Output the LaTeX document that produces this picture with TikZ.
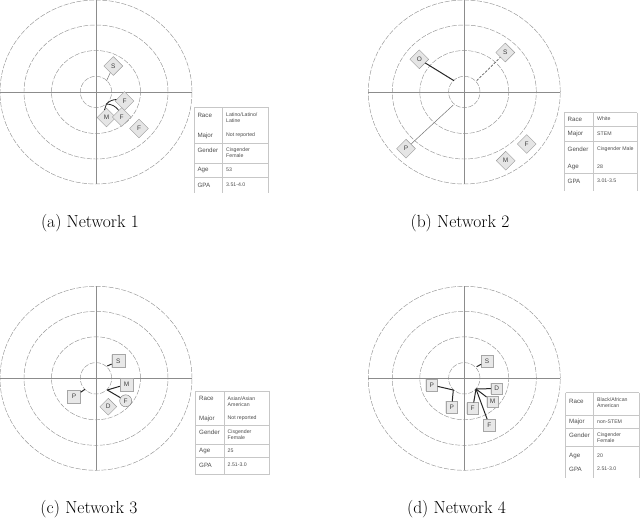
\documentclass[tikz,border=0pt]{standalone}
\usepackage{fontspec}
\setsansfont{Liberation Sans}
\usetikzlibrary{shapes.geometric}
\tikzset{
  target/.pic={
    \draw[ring] (0,0) ellipse [x radius=96pt, y radius=92pt];
    \draw[ring] (0,0) ellipse [x radius=72pt, y radius=67pt];
    \draw[ring] (0,0) ellipse [x radius=44.5pt, y radius=41.5pt];
    \draw[ring] (0,0) ellipse [x radius=15.7pt, y radius=15.7pt];
    \draw[axisline] (-96,0) -- (96,0);
    \draw[axisline] (0,-92) -- (0,92);
  }
}
\begin{document}
\begin{tikzpicture}[x=1pt,y=-1pt,
  axisline/.style={draw=black!45, line width=0.6pt},
  ring/.style={draw=black!42, line width=0.45pt, dash pattern=on 5pt off 1.5pt},
  lbl/.style={font=\sffamily\fontsize{6.5}{7}\selectfont, text=black!75},
  dnode/.style={lbl, diamond, draw=black!40, fill=black!10, minimum width=19pt, minimum height=19pt, inner sep=0pt},
  snode/.style={lbl, rectangle, draw=black!35, fill=black!9, minimum size=13pt, inner sep=0pt,
     path picture={\draw[black!65, line width=1pt] (path picture bounding box.north west) -- (path picture bounding box.south west);}},
  ssnode/.style={snode, minimum size=11.5pt},
  cnode/.style={lbl, circle, draw=black!55, fill=black!9, minimum size=12pt, inner sep=0pt},
  thinlink/.style={draw=black!55, line width=0.5pt},
  darklink/.style={draw=black!85, line width=1pt},
  dashlink/.style={draw=black!65, line width=0.7pt, dash pattern=on 2.5pt off 1.5pt},
  captxt/.style={font=\fontsize{17.5}{20}\selectfont, inner sep=0pt},
  tline/.style={draw=black!22, line width=0.5pt},
  thead/.style={anchor=west, inner sep=0pt, font=\sffamily\fontsize{6.2}{7}\selectfont, text=black!70},
  tval/.style={anchor=west, inner sep=0pt, align=left, font=\sffamily\fontsize{5.2}{6}\selectfont, text=black!70},
]
\useasboundingbox (0,0) rectangle (640,519);

% ---------- Network 1 ----------
\pic at (96,92) {target};
\coordinate (n1a) at (106.5,81);
\coordinate (n1h) at (106.5,104);
\node[dnode] (n1S) at (113.3,66) {S};
\node[dnode] (n1F1) at (124.5,101) {F};
\node[dnode] (n1M) at (106.5,117.5) {M};
\node[dnode] (n1F2) at (121.7,117) {F};
\node[dnode] (n1F3) at (139,128.5) {F};
\draw[thinlink] (n1a) -- (n1S);
\draw[darklink, line width=0.8pt] (n1h) to[bend left=20] (n1F1);
\draw[darklink, line width=0.8pt] (n1h) to[bend left=25] (n1F2);
\draw[darklink, line width=0.8pt] (n1h) to[bend right=15] (n1M);

% table 1
\draw[tline] (194,107.3) -- (268.3,107.3);
\foreach \yy in {143.3,163.3,177.3} {\draw[tline] (194,\yy) -- (268.3,\yy);}
\foreach \xx in {194,222.3,268.3} {\draw[tline] (\xx,107.3) -- (\xx,192.7);}
\node[thead] (t1a) at (197.3,115.7) {Race};
\node[tval] (t1b) at (226,118) {Latino/Latino/\\Latine};
\node[thead] (t1c) at (197.3,135.7) {Major};
\node[tval] (t1d) at (226,135.3) {Not reported};
\node[thead] (t1e) at (197.3,150.7) {Gender};
\node[tval] (t1f) at (226,153) {Cisgender\\Female};
\node[thead] (t1g) at (197.3,170.3) {Age};
\node[tval] (t1h) at (226,169.8) {53};
\node[thead] (t1i) at (197.3,185) {GPA};
\node[tval] (t1j) at (226,184.5) {3.51-4.0};

\node[captxt] (capa) at (90,222.8) {(a) Network 1};

% ---------- Network 2 ----------
\pic at (464.3,92) {target};
\coordinate (n2o) at (454,80.7);
\coordinate (n2s) at (476.7,80.7);
\coordinate (n2p) at (453.3,105);
\node[dnode] (n2O) at (419.3,59.3) {O};
\node[dnode] (n2S) at (505.3,52.5) {S};
\node[dnode] (n2P) at (406,148.7) {P};
\node[dnode] (n2F) at (526.7,144) {F};
\node[dnode] (n2M) at (505.7,160.7) {M};
\draw[darklink] (n2o) -- (n2O);
\draw[dashlink] (n2s) -- (n2S);
\draw[thinlink] (n2p) -- (n2P);

% table 2
\foreach \yy in {112.7,126.7,141.7,173.5} {\draw[tline] (564.3,\yy) -- (637.3,\yy);}
\foreach \xx in {564.3,593.3,637.3} {\draw[tline] (\xx,112.7) -- (\xx,190.5);}
\node[thead] (t2a) at (567.5,119.5) {Race};
\node[tval] (t2b) at (597,119) {White};
\node[thead] (t2c) at (567.5,134.3) {Major};
\node[tval] (t2d) at (597,134) {STEM};
\node[thead] (t2e) at (567.5,149) {Gender};
\node[tval] (t2f) at (597,148.7) {Cisgender Male};
\node[thead] (t2g) at (567.5,167.5) {Age};
\node[tval] (t2h) at (597,167) {28};
\node[thead] (t2i) at (567.5,181.5) {GPA};
\node[tval] (t2j) at (597,181) {3.01-3.5};

\node[captxt] (capb) at (460,222.8) {(b) Network 2};

% ---------- Network 3 ----------
\pic at (96,378.3) {target};
\coordinate (n3s) at (107.3,366);
\coordinate (n3h) at (107.3,390);
\coordinate (n3p) at (85,389.3);
\node[snode] (n3S) at (118.3,361) {S};
\node[snode] (n3M) at (126.5,384.3) {M};
\node[cnode] (n3F) at (125.7,400.8) {F};
\node[dnode, minimum width=17pt, minimum height=17pt] (n3D) at (108.3,406.7) {D};
\node[snode] (n3P) at (74,396.7) {P};
\draw[darklink] (n3s) -- (n3S);
\draw[darklink] (n3h) -- (n3M);
\draw[darklink] (n3h) -- (n3F);
\draw[darklink] (n3p) -- (n3P);

% table 3
\foreach \yy in {391,425.5,444.2,457.5,474.7} {\draw[tline] (195.7,\yy) -- (269.3,\yy);}
\foreach \xx in {195.7,224,269.3} {\draw[tline] (\xx,391) -- (\xx,474.7);}
\node[thead] (t3a) at (199,398.8) {Race};
\node[tval] (t3b) at (227.5,401.3) {Asian/Asian\\American};
\node[thead] (t3c) at (199,418.8) {Major};
\node[tval] (t3d) at (227.5,418.5) {Not reported};
\node[thead] (t3e) at (199,432) {Gender};
\node[tval] (t3f) at (227.5,434.5) {Cisgender\\Female};
\node[thead] (t3g) at (199,451) {Age};
\node[tval] (t3h) at (227.5,450.7) {25};
\node[thead] (t3i) at (199,465.3) {GPA};
\node[tval] (t3j) at (227.5,465) {2.51-3.0};

\node[captxt] (capc) at (89,508.7) {(c) Network 3};

% ---------- Network 4 ----------
\pic at (464.3,378.3) {target};
\coordinate (n4s) at (476.7,366.7);
\coordinate (n4p) at (453.3,390);
\coordinate (n4h) at (476,389);
\node[ssnode] (n4S) at (487,361) {S};
\node[ssnode] (n4P1) at (431.7,385) {P};
\node[ssnode] (n4P2) at (451.7,407.2) {P};
\node[ssnode] (n4D) at (496.7,388.5) {D};
\node[ssnode] (n4M) at (492.5,401.5) {M};
\node[ssnode] (n4F1) at (472.7,408.3) {F};
\node[ssnode] (n4F2) at (489.3,425) {F};
\draw[darklink] (n4s) -- (n4S);
\draw[darklink] (n4p) -- (n4P1);
\draw[darklink] (n4p) -- (n4P2);
\draw[darklink] (n4h) -- (n4D);
\draw[darklink] (n4h) -- (n4M);
\draw[darklink] (n4h) -- (n4F1);
\draw[darklink] (n4h) -- (n4F2);

% table 4
\foreach \yy in {392.7,415,428,446} {\draw[tline] (565.7,\yy) -- (639,\yy);}
\foreach \xx in {565.7,593.3,639} {\draw[tline] (\xx,392.7) -- (\xx,478);}
\node[thead] (t4a) at (569,401) {Race};
\node[tval] (t4b) at (597,403) {Black/African\\American};
\node[thead] (t4c) at (569,421.7) {Major};
\node[tval] (t4d) at (597,421.5) {non-STEM};
\node[thead] (t4e) at (569,435) {Gender};
\node[tval] (t4f) at (597,437.5) {Cisgender\\Female};
\node[thead] (t4g) at (569,456) {Age};
\node[tval] (t4h) at (597,455.7) {20};
\node[thead] (t4i) at (569,469.3) {GPA};
\node[tval] (t4j) at (597,469) {2.51-3.0};

\node[captxt] (capd) at (456.5,508.7) {(d) Network 4};
\end{tikzpicture}
\end{document}
